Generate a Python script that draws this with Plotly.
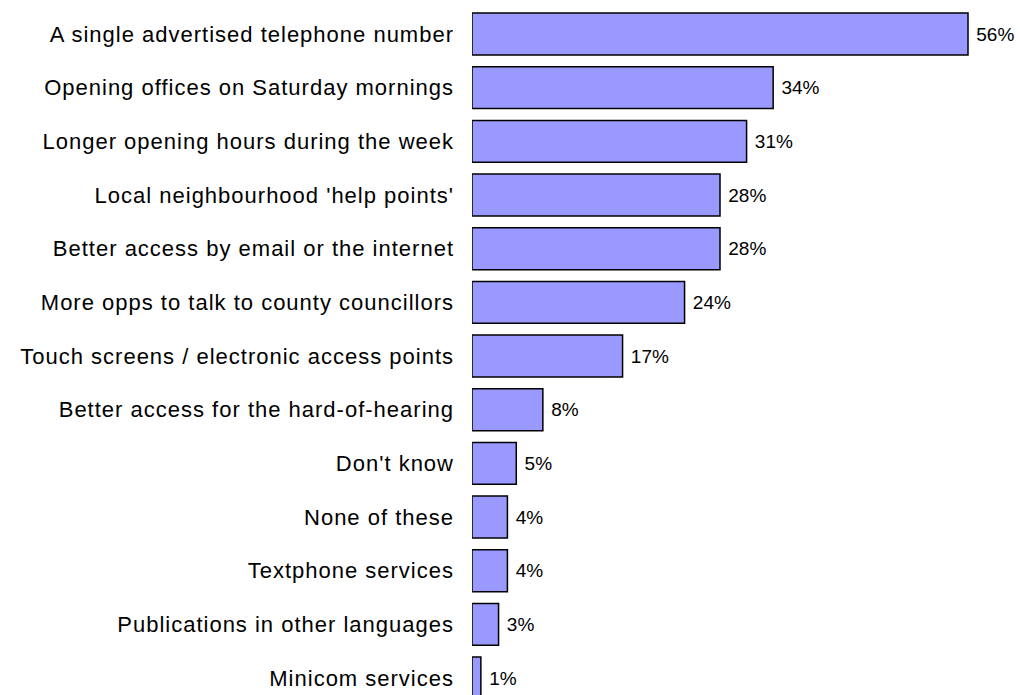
import plotly.graph_objects as go

# Survey responses: preferred ways of contacting the council
categories = [
    "A single advertised telephone number",
    "Opening offices on Saturday mornings",
    "Longer opening hours during the week",
    "Local neighbourhood 'help points'",
    "Better access by email or the internet",
    "More opps to talk to county councillors",
    "Touch screens / electronic access points",
    "Better access for the hard-of-hearing",
    "Don't know",
    "None of these",
    "Textphone services",
    "Publications in other languages",
    "Minicom services",
]
percentages = [56, 34, 31, 28, 28, 24, 17, 8, 5, 4, 4, 3, 1]

FONT = "Liberation Sans, Arial, sans-serif"

fig = go.Figure(
    go.Bar(
        x=percentages,
        y=categories,
        orientation="h",
        width=0.78,
        marker=dict(color="#9999FF", line=dict(color="#000000", width=1.5)),
        text=[f" {v}%" for v in percentages],
        textposition="outside",
        textfont=dict(family=FONT, size=19, color="#000000"),
        cliponaxis=False,
        constraintext="none",
        hoverinfo="skip",
    )
)

fig.update_layout(
    width=1020,
    height=695,
    margin=dict(l=472, r=0, t=0, b=0),
    paper_bgcolor="white",
    plot_bgcolor="white",
    showlegend=False,
    font=dict(family=FONT, size=19, color="#000000"),
)

fig.update_xaxes(range=[0, 61.87], visible=False, showgrid=False, zeroline=False)
fig.update_yaxes(
    type="category",
    categoryorder="array",
    categoryarray=categories,
    range=[12.316, -0.634],
    showgrid=False,
    zeroline=False,
    showline=False,
    ticks="",
    ticklabelstandoff=17,
    tickfont=dict(family=FONT, size=22, color="#000000"),
)

# Category labels are set with a little extra tracking
spacing_js = """
var gd = document.getElementById('{plot_id}');
function trackLabels() {
  gd.querySelectorAll('.ytick text').forEach(function (t) {
    t.style.letterSpacing = '1px';
  });
}
trackLabels();
gd.on('plotly_afterplot', trackLabels);
"""

fig.write_html("out.html", post_script=spacing_js)
